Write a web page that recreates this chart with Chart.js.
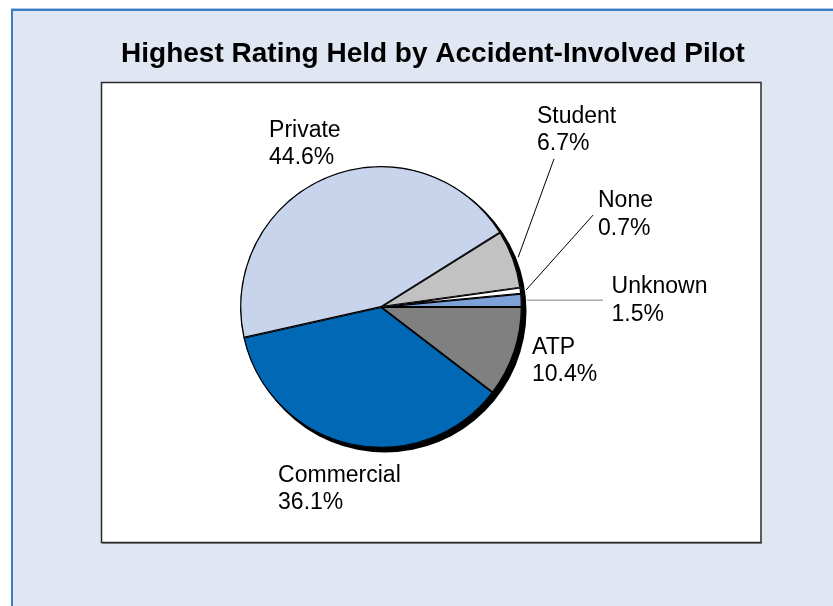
<!DOCTYPE html>
<html>
<head>
<meta charset="utf-8">
<script src="https://cdn.jsdelivr.net/npm/chart.js@4/dist/chart.umd.min.js"></script>
<style>
  html, body { margin: 0; padding: 0; background: #ffffff; }
  #wrap { width: 833px; height: 606px; position: relative; }
</style>
</head>
<body>
<div id="wrap"><canvas id="c" width="833" height="606"></canvas></div>
<script>
// Pilot ratings, listed clockwise starting at 3 o'clock
const categories = ['ATP', 'Commercial', 'Private', 'Student', 'None', 'Unknown'];
const shares = [10.4, 36.1, 44.6, 6.7, 0.7, 1.5];
const sliceColors = ['#808080', '#0068b5', '#c8d4eb', '#c2c2c2', '#ffffff', '#7ea2d8'];

// Label placement, in units of the pie radius from the pie centre
// (x = left edge of text, y = baseline of the first line)
const labelSpots = [
  { x: 1.071, y: 0.333 },   // ATP
  { x: -0.730, y: 1.241 },  // Commercial
  { x: -0.794, y: -1.206 }, // Private
  { x: 1.106, y: -1.305 },  // Student
  { x: 1.539, y: -0.709 },  // None
  { x: 1.635, y: -0.099 }   // Unknown
];
// Leader line end points (same units); null = no leader line
const leaderEnds = [null, null, null,
  { x: 1.227, y: -1.050, color: '#000000', flat: false },
  { x: 1.504, y: -0.652, color: '#000000', flat: false },
  { x: 1.574, y: -0.057, color: '#808080', flat: true }];

const FONT = '"Liberation Sans", Arial, sans-serif';

const framePlugin = {
  id: 'frame',
  beforeDraw(chart) {
    const ctx = chart.ctx;
    const W = chart.width, H = chart.height;
    ctx.save();
    ctx.fillStyle = '#ffffff';
    ctx.fillRect(0, 0, W, H);
    // panel
    ctx.fillStyle = '#e0e6f2';
    ctx.fillRect(11, 9, W - 11, H - 9);
    ctx.fillStyle = '#a9c8e8';
    ctx.fillRect(11, 8, W - 11, 1);
    ctx.fillStyle = '#3d7ec2';
    ctx.fillRect(11, 9, W - 11, 2);
    ctx.fillRect(11, 9, 2, H - 9);
    // title
    ctx.fillStyle = '#000000';
    ctx.font = 'bold 28px ' + FONT;
    ctx.textAlign = 'center';
    ctx.textBaseline = 'alphabetic';
    ctx.fillText('Highest Rating Held by Accident-Involved Pilot', 433, 62);
    // plot box
    ctx.fillStyle = '#ffffff';
    ctx.fillRect(101, 82, 660, 461);
    ctx.strokeStyle = '#8c8c8c';
    ctx.lineWidth = 1;
    ctx.beginPath();
    ctx.moveTo(102, 543.5); ctx.lineTo(762, 543.5);
    ctx.stroke();
    ctx.strokeStyle = '#2a2a2a';
    ctx.lineWidth = 1.5;
    ctx.strokeRect(101.5, 82.5, 659.5, 460);
    ctx.restore();
  },
  beforeDatasetsDraw(chart) {
    // drop shadow under the pie
    const arc = chart.getDatasetMeta(0).data[0];
    if (!arc) return;
    const ctx = chart.ctx;
    ctx.save();
    ctx.fillStyle = '#000000';
    ctx.beginPath();
    ctx.arc(arc.x + 4, arc.y + 4, arc.outerRadius + 0.5, 0, Math.PI * 2);
    ctx.fill();
    ctx.restore();
  },
  afterDatasetsDraw(chart) {
    const meta = chart.getDatasetMeta(0);
    const ctx = chart.ctx;
    ctx.save();
    meta.data.forEach((arc, i) => {
      const cx = arc.x, cy = arc.y, r = arc.outerRadius;
      const mid = (arc.startAngle + arc.endAngle) / 2;
      const end = leaderEnds[i];
      if (end) {
        const sx = cx + Math.cos(mid) * (r + 5);
        const sy = cy + Math.sin(mid) * (r + 5);
        ctx.strokeStyle = end.color;
        ctx.lineWidth = 1;
        ctx.beginPath();
        ctx.moveTo(sx, sy);
        ctx.lineTo(cx + end.x * r, end.flat ? sy : cy + end.y * r);
        ctx.stroke();
      }
      const spot = labelSpots[i];
      const tx = cx + spot.x * r, ty = cy + spot.y * r;
      ctx.fillStyle = '#000000';
      ctx.font = '23px ' + FONT;
      ctx.textAlign = 'left';
      ctx.textBaseline = 'alphabetic';
      ctx.fillText(categories[i], tx, ty);
      ctx.fillText(shares[i].toFixed(1) + '%', tx, ty + 27.5);
    });
    ctx.restore();
  }
};

new Chart(document.getElementById('c'), {
  type: 'pie',
  data: {
    labels: categories,
    datasets: [{
      data: shares,
      backgroundColor: sliceColors,
      borderColor: '#000000',
      borderWidth: 1,
      borderAlign: 'inner',
      hoverOffset: 0
    }]
  },
  options: {
    responsive: false,
    animation: false,
    rotation: 90,
    layout: { padding: { left: 240, right: 311, top: 166, bottom: 158 } },
    plugins: {
      legend: { display: false },
      title: { display: false },
      tooltip: { enabled: false }
    },
    events: []
  },
  plugins: [framePlugin]
});
</script>
</body>
</html>
